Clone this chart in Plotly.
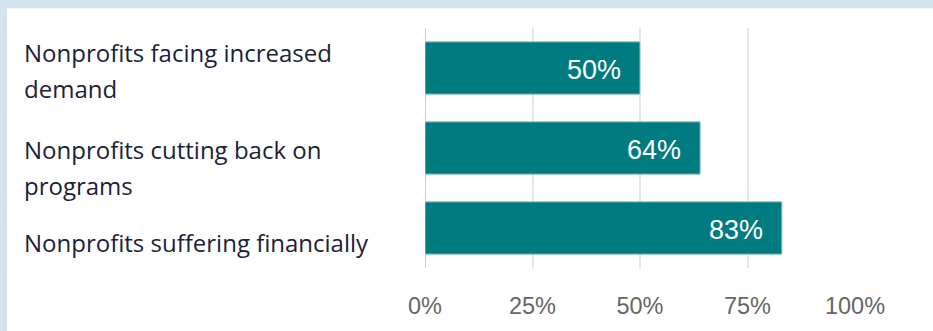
import plotly.graph_objects as go

categories = [
    "Nonprofits facing increased<br>demand",
    "Nonprofits cutting back on<br>programs",
    "Nonprofits suffering financially",
]
values = [50, 64, 83]
value_labels = ["50%", "64%", "83%"]
tick_vals = [0, 25, 50, 75, 100]
tick_text = ["0%", "25%", "50%", "75%", "100%"]

W, H = 933, 331
ML, MR, MT, MB = 425, 78, 28, 60
PW, PH = W - ML - MR, H - MT - MB

def px_x(p):
    return (p - ML) / PW

def px_y(p):
    return (H - MB - p) / PH

fig = go.Figure()
fig.add_trace(go.Bar(
    x=values, y=categories, orientation="h",
    marker=dict(color="#007b80", line=dict(color="#9cc9cb", width=1)),
    width=0.655, hoverinfo="skip",
))

annotations = []
# line offsets (px) of category label lines relative to the bar centre
offsets = {0: [-16, 20], 1: [1, 37], 2: [14]}
for i, cat in enumerate(categories):
    lines = cat.split("<br>")
    for j, line in enumerate(lines):
        annotations.append(dict(
            x=px_x(22), xref="paper", y=cat, yref="y",
            text=line, showarrow=False, xanchor="left", yanchor="middle",
            yshift=-offsets[i][j],
            font=dict(family="Open Sans", size=24, color="#1b2238"),
        ))
for cat, v, lab in zip(categories, values, value_labels):
    annotations.append(dict(
        x=v, xref="x", y=cat, yref="y", text=lab, showarrow=False,
        xanchor="right", yanchor="middle", xshift=-17, yshift=-2,
        font=dict(family="Liberation Sans", size=27, color="white"),
    ))

fig.update_layout(
    width=W, height=H,
    margin=dict(l=ML, r=MR, t=MT, b=MB, pad=0),
    paper_bgcolor="#d3e4ee",
    plot_bgcolor="rgba(0,0,0,0)",
    showlegend=False,
    annotations=annotations,
    shapes=[dict(
        type="rect", xref="paper", yref="paper",
        x0=px_x(7), x1=px_x(W + 5), y0=px_y(H + 5), y1=px_y(8),
        fillcolor="white", line=dict(width=0), layer="below",
    )],
    xaxis=dict(
        range=[0, 100], tickvals=tick_vals, ticktext=tick_text,
        showgrid=True, gridcolor="#e6e6e6", gridwidth=2,
        zeroline=True, zerolinecolor="#d0d0d0", zerolinewidth=1,
        showline=False, ticks="", ticklabelstandoff=21,
        tickfont=dict(family="Liberation Sans", size=23.5, color="#666666"),
        fixedrange=True,
    ),
    yaxis=dict(
        range=[2.5, -0.5], showticklabels=False, showgrid=False,
        zeroline=False, showline=False, ticks="", fixedrange=True,
    ),
)

fig.write_html(
    "out.html",
    config={"displayModeBar": False},
    post_script="document.body.style.margin='0';document.body.style.overflow='hidden';",
)
